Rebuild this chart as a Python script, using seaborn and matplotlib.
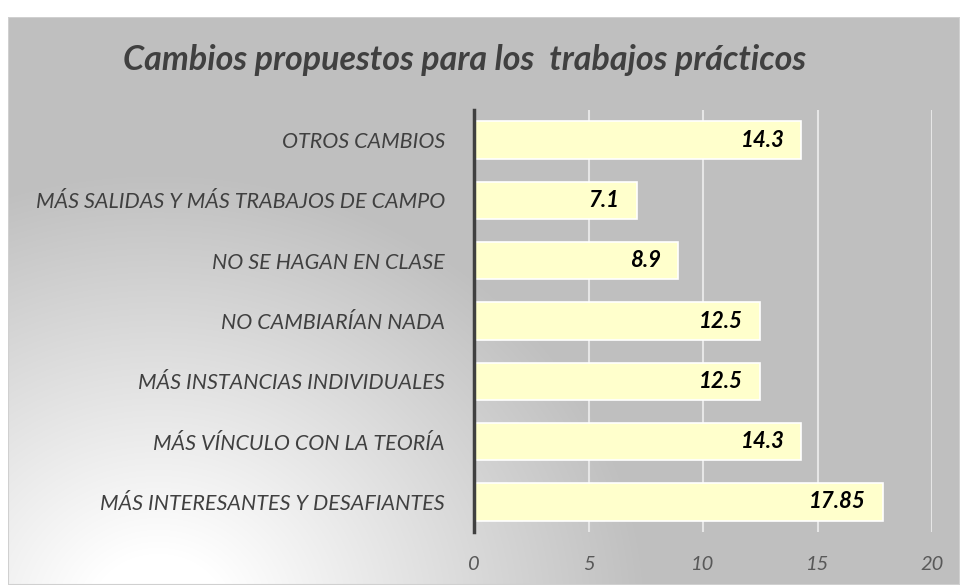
import numpy as np
import pandas as pd
import matplotlib.pyplot as plt
import seaborn as sns
from matplotlib.patches import Rectangle

# Data, listed top to bottom as in the chart
categories = [
    'OTROS CAMBIOS',
    'MÁS SALIDAS Y MÁS TRABAJOS DE CAMPO',
    'NO SE HAGAN EN CLASE',
    'NO CAMBIARÍAN NADA',
    'MÁS INSTANCIAS INDIVIDUALES',
    'MÁS VÍNCULO CON LA TEORÍA',
    'MÁS INTERESANTES Y DESAFIANTES',
]
values = [14.3, 7.1, 8.9, 12.5, 12.5, 14.3, 17.85]
value_labels = ['14.3', '7.1', '8.9', '12.5', '12.5', '14.3', '17.85']
x_ticks = [0, 5, 10, 15, 20]

df = pd.DataFrame({'cat': categories, 'val': values})

sns.set_theme(style='white')
plt.rcParams['font.family'] = ['Lato', 'DejaVu Sans']

fig = plt.figure(figsize=(9.6, 5.85), dpi=100)
fig.patch.set_facecolor('white')

# gradient background panel (white in lower left, gray elsewhere)
bg = fig.add_axes([8 / 960, 0, 1 - 8 / 960, 1 - 17 / 585], zorder=0)
h, w = 568, 952
yy, xx = np.mgrid[0:h, 0:w]
cx, cy = 150, 600
d = np.sqrt((xx - cx) ** 2 + ((yy - cy) * 1.1) ** 2)
t = np.clip((d - 70) / 420, 0, 1)
light, dark = 1.0, 0.75
g = light + (dark - light) * t
img = np.dstack([g, g, g])
bg.imshow(img, extent=[0, 1, 0, 1], aspect='auto', origin='upper')
bg.set_xlim(0, 1)
bg.set_ylim(0, 1)
bg.axis('off')
bg.add_patch(Rectangle((0, 0), 1, 1, transform=bg.transAxes, fill=False,
                       edgecolor='#d0d0d0', lw=1.5))

ax = fig.add_axes([474 / 960, 1 - 532 / 585, (932 - 474) / 960, (532 - 110) / 585], zorder=1)
ax.patch.set_alpha(0)
sns.barplot(data=df, x='val', y='cat', ax=ax, color='#ffffcc', saturation=1,
            width=0.62, edgecolor='white', linewidth=1.2, zorder=3)

ax.set_xlim(0, 20)
ax.set_ylim(6.5, -0.5)
ax.set_xticks(x_ticks)
ax.set_xticklabels([str(v) for v in x_ticks], fontsize=14.5, style='italic', color='#595959')
ax.set_yticklabels(categories, fontsize=15.5, style='italic', color='#404040')
ax.tick_params(axis='x', length=0, pad=17)
ax.tick_params(axis='y', length=0, pad=21)
ax.set_xlabel('')
ax.set_ylabel('')
ax.grid(axis='x', color='#e6e6e6', lw=1.5, zorder=0)
for s in ['top', 'right', 'bottom']:
    ax.spines[s].set_visible(False)
ax.spines['left'].set_color('#404040')
ax.spines['left'].set_linewidth(2.5)
ax.spines['left'].set_zorder(4)

for i, (v, lab) in enumerate(zip(values, value_labels)):
    ax.text(v - 0.75, i, lab, ha='right', va='center', fontsize=16,
            fontweight='bold', style='italic', color='black', zorder=5)

fig.text(0.484, 1 - 60 / 585, 'Cambios propuestos para los  trabajos prácticos',
         ha='center', va='center', fontsize=24.5, fontweight='bold', style='italic',
         color='#404040')

plt.savefig('out.png', dpi=100)
